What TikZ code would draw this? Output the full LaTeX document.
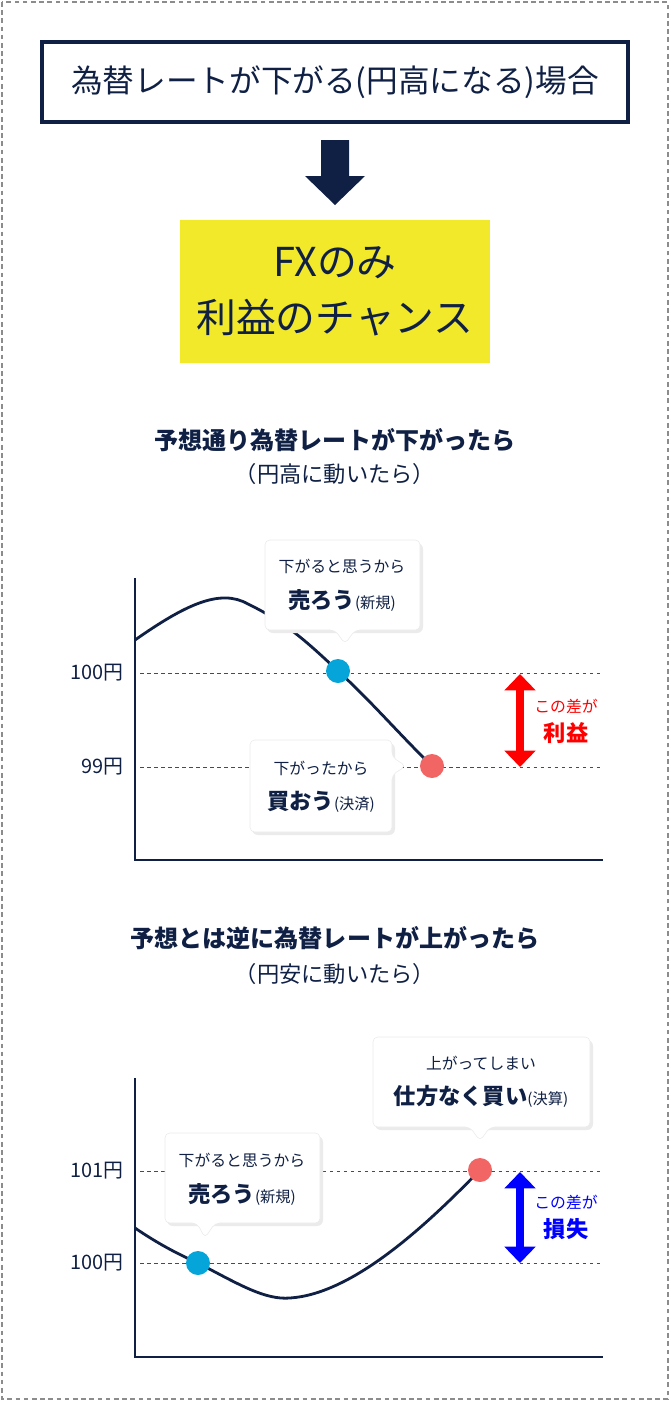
\documentclass[tikz,border=0pt]{standalone}
\usepackage{fontspec}
\setmainfont{Noto Sans CJK JP}
\usetikzlibrary{arrows.meta}
\definecolor{navy}{HTML}{0F2044}
\definecolor{fxyellow}{HTML}{F2E92A}
\definecolor{dotblue}{HTML}{05A5DA}
\definecolor{dotred}{HTML}{F26565}
\tikzset{
  axis/.style={navy,line width=1.8pt},
  guide/.style={navy!80,dashed,line width=0.6pt},
  curve/.style={navy,line width=2.4pt},
  bubble/.style={fill=white,draw=black!8,line width=0.5pt,rounded corners=4pt},
  shade/.style={fill=black!8,rounded corners=5pt},
  ylab/.style={navy,anchor=east,font=\fontsize{17}{17}\selectfont},
  small/.style={navy,font=\fontsize{13.5}{15}\selectfont},
  big/.style={navy,font=\fontsize{19}{22}\selectfont\bfseries},
  title/.style={navy,font=\fontsize{20.5}{24}\selectfont\bfseries},
  dbl/.style={{Triangle[width=26pt,length=14pt]}-{Triangle[width=26pt,length=14pt]},line width=6pt},
}
\begin{document}
\begin{tikzpicture}[x=0.03cm,y=-0.03cm]
  \useasboundingbox (0,0) rectangle (670,1401);
  \draw[black!45,dash pattern=on 4pt off 3pt,line width=2pt] (2,2) rectangle (668,1399);

  % header
  \node[draw=navy,line width=3pt,minimum width=586*0.03cm,minimum height=80*0.03cm,
        text=navy,font=\fontsize{27}{30}\selectfont] (head) at (335,82)
        {為替レートが下がる(円高になる)場合};
  \fill[navy] (321,140) -- (349,140) -- (349,176) -- (365,176) -- (335,205)
              -- (305,176) -- (321,176) -- cycle;
  \node[fill=fxyellow,minimum width=310*0.03cm,minimum height=143*0.03cm,align=center,
        text=navy,font=\fontsize{34}{48}\selectfont] (chance) at (335,291)
        {FXのみ\\利益のチャンス};

  % chart 1
  \node[title] (t1) at (335,440) {予想通り為替レートが下がったら};
  \node[navy,font=\fontsize{19}{22}\selectfont] (s1) at (335,474) {（円高に動いたら）};
  \draw[axis] (135,578) -- (135,860) -- (603,860);
  \draw[guide] (140,673) -- (603,673);
  \draw[guide] (140,767) -- (603,767);
  \node[ylab] (y100a) at (128,673) {100円};
  \node[ylab] (y99) at (128,767) {99円};
  \draw[curve] (135,640) .. controls (185,605) and (220,588) .. (248,604)
    .. controls (285,622) and (305,640) .. (338,671)
    .. controls (370,700) and (400,735) .. (432,766);
  \fill[shade] (267,543) rectangle (423,633);
  \draw[bubble] (265,540) -- (420,540) -- (420,630) -- (355,630) -- (345,644)
    -- (335,630) -- (265,630) -- cycle;
  \node[small] (c1a) at (342,566) {下がると思うから};
  \node[big] (c1b) at (342,600) {売ろう{\mdseries\fontsize{13}{15}\selectfont (新規)}};
  \fill[shade] (252,743) rectangle (395,835);
  \draw[bubble] (250,740) -- (392,740) -- (392,757) -- (406,766) -- (392,775)
    -- (392,832) -- (250,832) -- cycle;
  \node[small] (c2a) at (321,768) {下がったから};
  \node[big] (c2b) at (321,802) {買おう{\mdseries\fontsize{13}{15}\selectfont (決済)}};
  \fill[dotblue] (338,671) circle (12);
  \fill[dotred] (432,766) circle (12);
  \draw[dbl,red] (520,674) -- (520,767);
  \node[small,red] (g1a) at (566,706) {この差が};
  \node[big,red] (g1b) at (566,733) {利益};

  % chart 2
  \node[title] (t2) at (335,938) {予想とは逆に為替レートが上がったら};
  \node[navy,font=\fontsize{19}{22}\selectfont] (s2) at (335,974) {（円安に動いたら）};
  \draw[axis] (135,1078) -- (135,1357) -- (603,1357);
  \draw[guide] (140,1171) -- (603,1171);
  \draw[guide] (140,1263) -- (603,1263);
  \node[ylab] (y101) at (128,1171) {101円};
  \node[ylab] (y100b) at (128,1263) {100円};
  \draw[curve] (135,1228) .. controls (160,1245) and (180,1255) .. (198,1263)
    .. controls (240,1285) and (265,1300) .. (290,1298)
    .. controls (350,1294) and (420,1232) .. (480,1170);
  \fill[shade] (167,1136) rectangle (323,1226);
  \draw[bubble] (165,1133) -- (320,1133) -- (320,1223) -- (215,1223) -- (205,1238)
    -- (197,1223) -- (165,1223) -- cycle;
  \node[small] (c3a) at (242,1160) {下がると思うから};
  \node[big] (c3b) at (242,1194) {売ろう{\mdseries\fontsize{13}{15}\selectfont (新規)}};
  \fill[shade] (375,1040) rectangle (593,1130);
  \draw[bubble] (373,1037) -- (590,1037) -- (590,1127) -- (490,1127) -- (480,1141)
    -- (470,1127) -- (373,1127) -- cycle;
  \node[small] (c4a) at (481,1063) {上がってしまい};
  \node[big] (c4b) at (481,1096) {仕方なく買い{\mdseries\fontsize{13}{15}\selectfont (決算)}};
  \fill[dotblue] (198,1263) circle (12);
  \fill[dotred] (480,1170) circle (12);
  \draw[dbl,blue] (520,1172) -- (520,1263);
  \node[small,blue] (g2a) at (566,1202) {この差が};
  \node[big,blue] (g2b) at (566,1229) {損失};
\end{tikzpicture}
\end{document}
